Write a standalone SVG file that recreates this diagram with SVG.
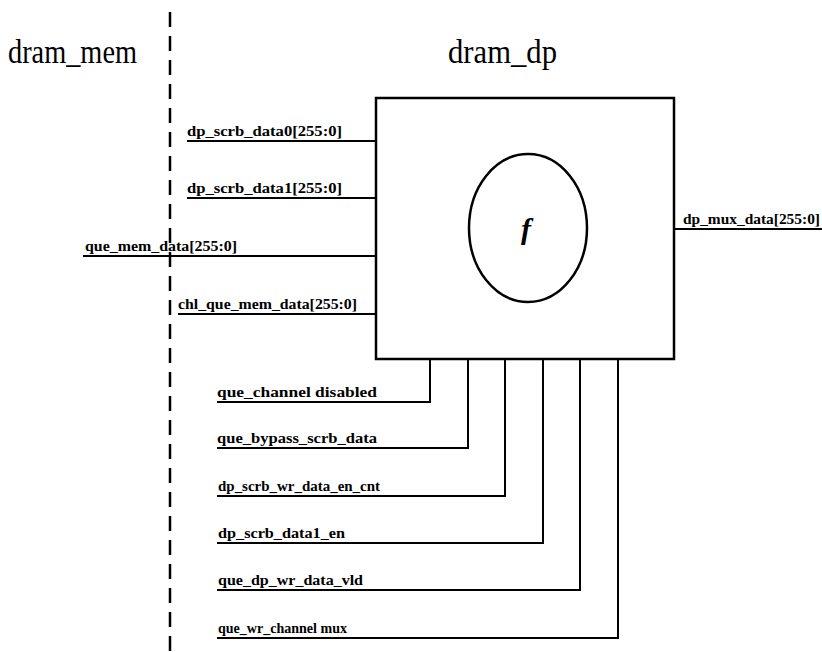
<svg xmlns="http://www.w3.org/2000/svg" width="822" height="652" viewBox="0 0 822 652">
<style>
.t{font-family:"Liberation Serif","DejaVu Serif",serif;fill:#000}
.title{font-size:33px}
.lbl{font-size:14px;font-weight:bold}
.w{stroke:#000;stroke-width:2;fill:none}
.box{stroke:#000;stroke-width:2.5;fill:#fff}
</style>
<rect width="822" height="652" fill="#fff"/>
<g id="divider">
<line x1="170" y1="12" x2="170" y2="652" stroke="#000" stroke-width="2.5" stroke-dasharray="15 9"/>
</g>
<g id="dram_mem">
<text class="t title" x="8" y="63" textLength="129" lengthAdjust="spacingAndGlyphs">dram_mem</text>
</g>
<g id="connectors">
<polyline class="w" points="187,141 376,141"/>
<polyline class="w" points="187,198 376,198"/>
<polyline class="w" points="83,256 376,256"/>
<polyline class="w" points="178,314 376,314"/>
<polyline class="w" points="674,229 822,229"/>
<polyline class="w" points="217,402 430,402 430,359"/>
<polyline class="w" points="217,448 468,448 468,359"/>
<polyline class="w" points="217,496 505,496 505,359"/>
<polyline class="w" points="217,543 543,543 543,359"/>
<polyline class="w" points="217,590 580,590 580,359"/>
<polyline class="w" points="217,638 618,638 618,359"/>
</g>
<g id="labels">
<text class="t lbl" x="187" y="136" textLength="155" lengthAdjust="spacingAndGlyphs">dp_scrb_data0[255:0]</text>
<text class="t lbl" x="187" y="193" textLength="155" lengthAdjust="spacingAndGlyphs">dp_scrb_data1[255:0]</text>
<text class="t lbl" x="85" y="251" textLength="152" lengthAdjust="spacingAndGlyphs">que_mem_data[255:0]</text>
<text class="t lbl" x="178" y="309" textLength="179" lengthAdjust="spacingAndGlyphs">chl_que_mem_data[255:0]</text>
<text class="t lbl" x="683" y="224" textLength="137" lengthAdjust="spacingAndGlyphs">dp_mux_data[255:0]</text>
<text class="t lbl" x="217" y="397" textLength="160" lengthAdjust="spacingAndGlyphs">que_channel disabled</text>
<text class="t lbl" x="217" y="443" textLength="160" lengthAdjust="spacingAndGlyphs">que_bypass_scrb_data</text>
<text class="t lbl" x="218" y="491" textLength="162" lengthAdjust="spacingAndGlyphs">dp_scrb_wr_data_en_cnt</text>
<text class="t lbl" x="218" y="538" textLength="127" lengthAdjust="spacingAndGlyphs">dp_scrb_data1_en</text>
<text class="t lbl" x="218" y="585" textLength="145" lengthAdjust="spacingAndGlyphs">que_dp_wr_data_vld</text>
<text class="t lbl" x="218" y="633" textLength="129" lengthAdjust="spacingAndGlyphs">que_wr_channel mux</text>
</g>
<g id="dram_dp">
<text class="t title" x="448" y="63" textLength="109" lengthAdjust="spacingAndGlyphs">dram_dp</text>
<rect class="box" x="376" y="98" width="298" height="261"/>
<ellipse cx="528" cy="228" rx="59" ry="74" stroke="#000" stroke-width="2.5" fill="none"/>
<text class="t" x="526" y="239" font-size="30" font-style="italic" font-weight="bold" text-anchor="middle">f</text>
</g>
</svg>
